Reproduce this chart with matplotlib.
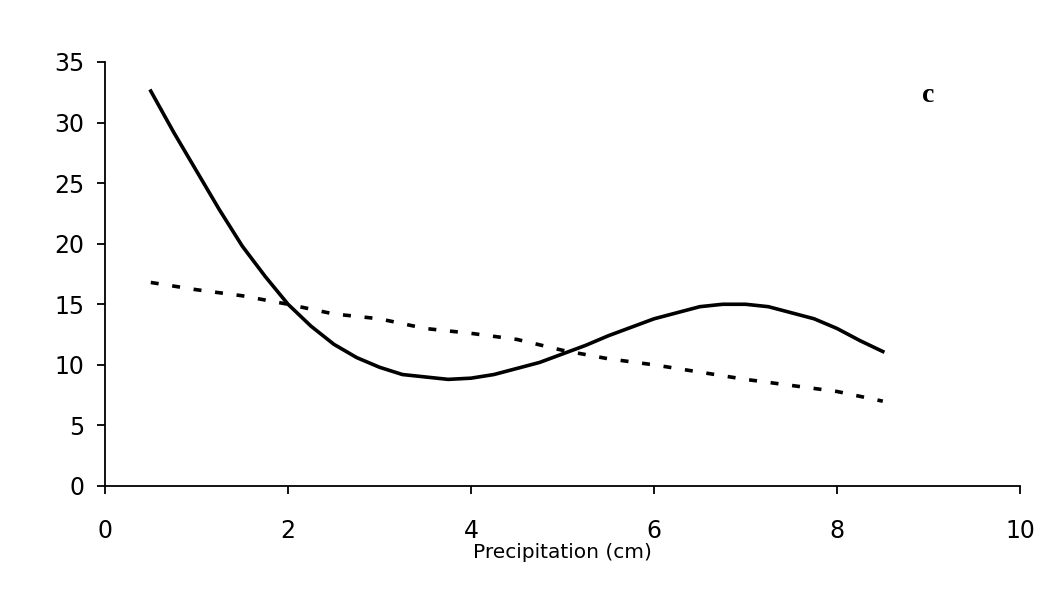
import matplotlib
matplotlib.use("Agg")
import matplotlib.pyplot as plt

x_solid = [0.5, 0.75, 1.0, 1.25, 1.5, 1.75, 2.0, 2.25, 2.5, 2.75, 3.0, 3.25, 3.5, 3.75,
           4.0, 4.25, 4.5, 4.75, 5.0, 5.25, 5.5, 5.75, 6.0, 6.25, 6.5, 6.75, 7.0, 7.25,
           7.5, 7.75, 8.0, 8.25, 8.5]
y_solid = [32.6, 29.2, 26.0, 22.8, 19.8, 17.3, 15.0, 13.2, 11.7, 10.6, 9.8, 9.2, 9.0, 8.8,
           8.9, 9.2, 9.7, 10.2, 10.9, 11.6, 12.4, 13.1, 13.8, 14.3, 14.8, 15.0, 15.0, 14.8,
           14.3, 13.8, 13.0, 12.0, 11.1]
x_dash = [0.5, 1.0, 1.5, 2.0, 2.5, 3.0, 3.5, 4.0, 4.5, 5.0, 5.5, 6.0, 6.5, 7.0, 7.5, 8.0, 8.5]
y_dash = [16.8, 16.2, 15.7, 15.0, 14.2, 13.8, 13.0, 12.6, 12.1, 11.2, 10.5, 10.0, 9.4, 8.8,
          8.3, 7.8, 7.0]
x_ticks = [0, 2, 4, 6, 8, 10]
y_ticks = [0, 5, 10, 15, 20, 25, 30, 35]
x_label = "Precipitation (cm)"
panel_label = "c"

fam = "DejaVu Sans"

fig = plt.figure(figsize=(10.62, 6.13), dpi=100)
ax = fig.add_axes([0.0989, 0.2072, 0.8616, 0.6917])
ax.plot(x_solid, y_solid, color="black", lw=2.6, solid_joinstyle="miter")
ax.plot(x_dash, y_dash, color="black", lw=2.6, linestyle=(0, (2.2, 3.8)), dash_capstyle="butt")
ax.set_xlim(0, 10)
ax.set_ylim(0, 35)
ax.set_xticks(x_ticks)
ax.set_yticks(y_ticks)
ax.set_xticklabels([str(v) for v in x_ticks], fontfamily=fam, fontsize=17)
ax.set_yticklabels([str(v) for v in y_ticks], fontfamily=fam, fontsize=17)
for s in ["top", "right"]:
    ax.spines[s].set_visible(False)
for s in ["left", "bottom"]:
    ax.spines[s].set_linewidth(1.3)
ax.tick_params(direction="out", length=6, width=1.3)
ax.tick_params(axis="x", pad=18)
ax.tick_params(axis="y", pad=9)
ax.set_xlabel(x_label, fontfamily=fam, fontsize=14.5, labelpad=0)
ax.text(9.0, 32.2, panel_label, fontfamily="Liberation Serif", fontweight="bold",
        fontsize=20, ha="center", va="center")
fig.savefig("out.png", dpi=100)
